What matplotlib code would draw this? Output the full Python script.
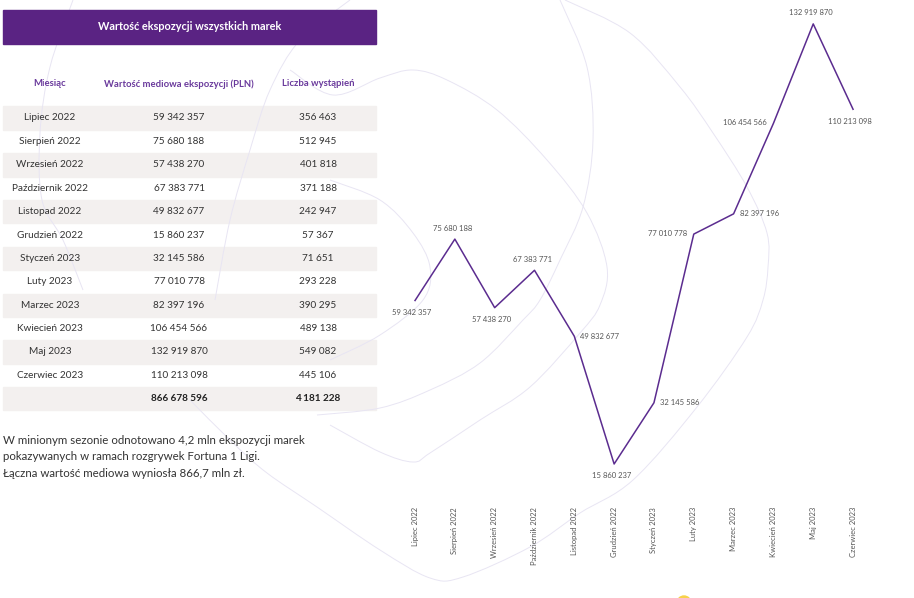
import matplotlib.pyplot as plt
import matplotlib
import numpy as np
from matplotlib.patches import Rectangle, Circle, PathPatch
from matplotlib.path import Path

plt.rcParams['font.family'] = ['Lato', 'DejaVu Sans']

months = ['Lipiec 2022', 'Sierpień 2022', 'Wrzesień 2022', 'Październik 2022',
          'Listopad 2022', 'Grudzień 2022', 'Styczeń 2023', 'Luty 2023',
          'Marzec 2023', 'Kwiecień 2023', 'Maj 2023', 'Czerwiec 2023']
values = [59342357, 75680188, 57438270, 67383771, 49832677, 15860237,
          32145586, 77010778, 82397196, 106454566, 132919870, 110213098]
counts = [356463, 512945, 401818, 371188, 242947, 57367,
          71651, 293228, 390295, 489138, 549082, 445106]
total_value = 866678596   # as printed in the source
total_count = 4181228
label_side = ['below', 'above', 'below', 'above', 'right', 'below',
              'right', 'left', 'right', 'left', 'above', 'below']

title = 'Wartość ekspozycji wszystkich marek'
col_heads = ['Miesiąc', 'Wartość mediowa ekspozycji (PLN)', 'Liczba wystąpień']
note = ['W minionym sezonie odnotowano 4,2 mln ekspozycji marek',
        'pokazywanych w ramach rozgrywek Fortuna 1 Ligi.',
        'Łączna wartość mediowa wyniosła 866,7 mln zł.']

purple = '#5a2383'
line_c = '#5b2c8f'
grey = '#555555'
dark = '#333333'


def fmt(n):
    return '{:,}'.format(n).replace(',', ' ')


def smooth_path(pts):
    # catmull-rom through the points, as cubic beziers
    p = np.array(pts, float)
    p = np.vstack([p[0], p, p[-1]])
    verts = [p[1]]
    codes = [Path.MOVETO]
    for i in range(1, len(p) - 2):
        c1 = p[i] + (p[i + 1] - p[i - 1]) / 6
        c2 = p[i + 1] - (p[i + 2] - p[i]) / 6
        verts += [c1, c2, p[i + 1]]
        codes += [Path.CURVE4] * 3
    return Path(verts, codes)


# background swooshes (decoration only)
swooshes = [
    [(560, 0), (587, 67), (593, 140), (583, 207), (560, 260), (540, 300),
     (523, 320), (480, 363), (430, 390), (380, 408), (317, 415)],
    [(565, 0), (630, 33), (680, 87), (713, 133), (747, 187), (767, 233),
     (768, 267), (763, 300), (747, 337), (697, 407), (633, 480), (580, 513),
     (530, 547), (463, 577), (430, 578), (380, 550), (317, 507), (267, 473),
     (233, 443), (190, 400)],
    [(290, 70), (333, 95), (380, 78), (413, 70), (447, 80), (497, 110),
     (547, 160), (587, 213), (607, 267), (600, 305), (580, 333), (530, 387),
     (480, 420), (430, 453), (413, 462), (380, 452), (330, 425)],
    [(330, 180), (380, 200), (413, 233), (430, 267), (423, 300), (380, 335),
     (330, 360)],
    [(73, 0), (50, 67), (40, 133), (42, 200), (63, 240), (83, 290)],
    [(350, 0), (300, 40), (270, 90), (250, 150), (230, 220), (215, 300)],
]

fig = plt.figure(figsize=(9.14, 5.98), dpi=100)

# overlay in pixel units for the table and decoration
bg = fig.add_axes([0, 0, 1, 1])
bg.set_xlim(0, 914)
bg.set_ylim(598, 0)
bg.axis('off')

for pts in swooshes:
    bg.add_patch(PathPatch(smooth_path(pts), fill=False, edgecolor='#e8e5f3',
                           lw=0.7, zorder=1.5))
bg.add_patch(Circle((684, 603), 7, color='#f7d24a', zorder=0))

# table
bg.add_patch(Rectangle((3, 10), 373, 34, color=purple, zorder=2))
bg.text(189.5, 27, title, color='white', fontsize=7.8, fontweight='bold',
        ha='center', va='center', zorder=3)

col_x = [50, 179, 318]
for x, h in zip(col_x, col_heads):
    bg.text(x, 84, h, color='#6a3a9c', fontsize=6.8, fontweight='bold',
            ha='center', va='center', zorder=3)

pitch = 23.4
rows = [(m, fmt(v), fmt(c)) for m, v, c in zip(months, values, counts)]
rows.append(('', fmt(total_value), fmt(total_count)))
for i, r in enumerate(rows):
    y = 118 + i * pitch
    if i % 2 == 0:
        bg.add_patch(Rectangle((3, y - pitch / 2), 373, pitch,
                               color='#f3f0ef', zorder=1))
    bold = i == len(rows) - 1
    for x, t in zip(col_x, r):
        bg.text(x, y, t, color='#222222' if bold else dark, fontsize=7.2,
                fontweight='bold' if bold else 'normal',
                ha='center', va='center', zorder=3)

for i, t in enumerate(note):
    bg.text(3, 440 + i * 16.8, t, color=dark, fontsize=8.3, ha='left',
            va='center', zorder=3)

# line chart
ax = fig.add_axes([0.4323, 0.1244, 0.5228, 0.8487])
ax.patch.set_alpha(0)
x = list(range(len(months)))
ax.plot(x, values, color=line_c, lw=1.1, clip_on=False, zorder=3)
ax.set_xlim(-0.5, 11.5)
ax.set_ylim(0, 135e6)
ax.set_yticks([])
ax.set_xticks(x)
ax.set_xticklabels(months, rotation=90, fontsize=5.5, color=grey)
ax.tick_params(axis='x', length=0, pad=-12)
for s in ax.spines.values():
    s.set_visible(False)

offsets = {'below': ((-3, -12), 'center'), 'above': ((-2, 11), 'center'),
           'right': ((6, 0), 'left'), 'left': ((-7, 1), 'right')}
for xi, v, side in zip(x, values, label_side):
    (dx, dy), ha = offsets[side]
    ax.annotate(fmt(v), (xi, v), xytext=(dx * 0.72, dy * 0.72),
                textcoords='offset points', ha=ha, va='center',
                fontsize=5.5, color=grey, annotation_clip=False)

fig.savefig('out.png', dpi=100)
